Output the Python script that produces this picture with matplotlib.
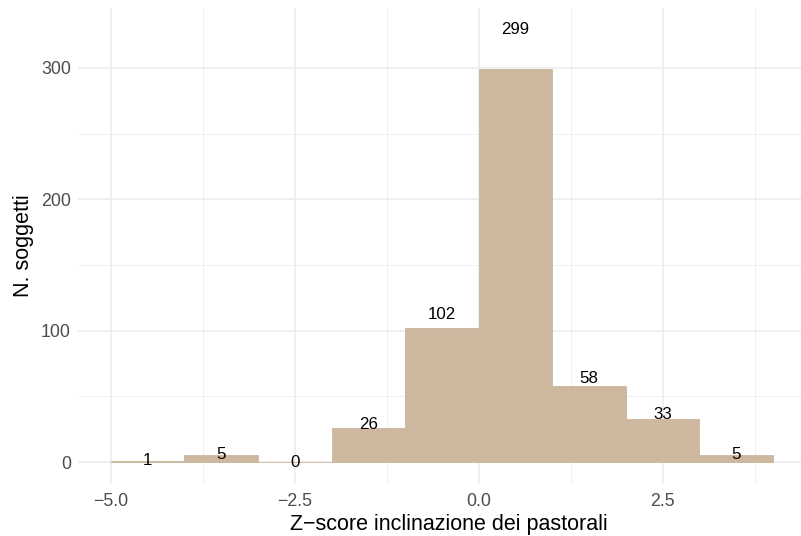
import matplotlib
matplotlib.use("Agg")
import matplotlib.pyplot as plt
import numpy as np

# histogram bins (edges) and counts
bin_edges = [-5, -4, -3, -2, -1, 0, 1, 2, 3, 4]
counts = [1, 5, 0, 26, 102, 299, 58, 33, 5]
x_ticks = [-5.0, -2.5, 0.0, 2.5]
x_tick_labels = ["\u22125.0", "\u22122.5", "0.0", "2.5"]
y_ticks = [0, 100, 200, 300]

plt.rcParams['font.family'] = ['Liberation Sans', 'DejaVu Sans']

fig = plt.figure(figsize=(8.01, 5.36), dpi=100)
ax = fig.add_axes([77.7 / 801, (536 - 483.6) / 536, 1 - 77.7 / 801, (483.6 - 8.4) / 536])

edges = np.array(bin_edges, dtype=float)
widths = np.diff(edges)
centers = edges[:-1] + widths / 2
ax.bar(edges[:-1], counts, width=widths, align='edge', color='#CDB79E',
       edgecolor='#CDB79E', linewidth=0.6, zorder=2)

for c, n in zip(centers, counts):
    ax.text(c, n * 1.1, str(n), ha='center', va='center', fontsize=12.2,
            color='black', zorder=3)

ax.set_xlim(-5.45, 4.38)
ax.set_ylim(-16.4, 345.3)

ax.set_xticks(x_ticks)
ax.set_xticklabels(x_tick_labels)
ax.set_yticks(y_ticks)
ax.set_xticks([-3.75, -1.25, 1.25, 3.75], minor=True)
ax.set_yticks([50, 150, 250], minor=True)

ax.grid(which='major', color='#EBEBEB', linewidth=1.1, zorder=0)
ax.grid(which='minor', color='#EBEBEB', linewidth=0.55, zorder=0)
ax.set_axisbelow(True)
for s in ax.spines.values():
    s.set_visible(False)
ax.tick_params(which='both', length=0, labelsize=12.8, labelcolor='#4D4D4D')
ax.tick_params(axis='x', pad=7)
ax.tick_params(axis='y', pad=5)

ax.set_xlabel("Z\u2212score inclinazione dei pastorali", fontsize=15.5, labelpad=3)
ax.xaxis.label.set_x(0.5127)
ax.set_ylabel("N. soggetti", fontsize=15.5, labelpad=5)

fig.savefig("out.png", dpi=100)
